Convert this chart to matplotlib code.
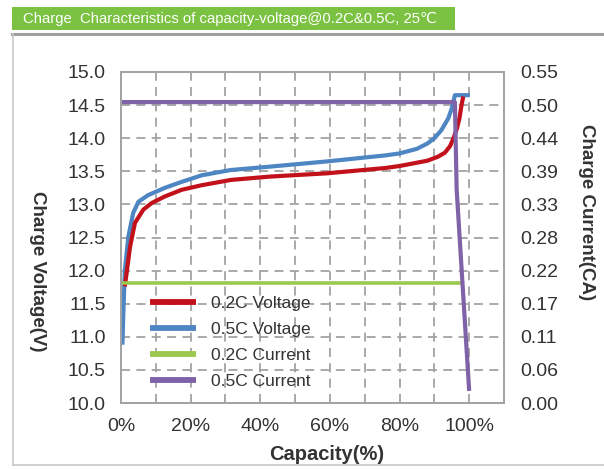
import matplotlib
matplotlib.use("Agg")
import matplotlib.pyplot as plt
from matplotlib.patches import Rectangle
from matplotlib.lines import Line2D

plt.rcParams['font.family'] = ['Liberation Sans', 'DejaVu Sans']

# ---- data ----
cap_02v = [1.1, 1.6, 2.6, 4.0, 6.4, 8.8, 12.6, 17.4, 23.2, 31.6, 42.7, 59.3, 75.9, 80.0, 85.0, 88.0,
           91.0, 93.0, 94.5, 95.5, 96.5, 97.2, 97.8, 98.3]
volt_02 = [11.76, 11.96, 12.36, 12.72, 12.92, 13.02, 13.12, 13.22, 13.29, 13.37, 13.42, 13.47, 13.55, 13.58, 13.63, 13.66,
           13.72, 13.78, 13.88, 14.00, 14.15, 14.30, 14.50, 14.63]

cap_05v = [0.4, 0.7, 1.1, 2.1, 3.5, 5.0, 7.8, 12.6, 17.4, 23.2, 31.6, 42.7, 59.3, 75.9, 80.0, 85.0,
           88.0, 90.0, 92.0, 94.0, 95.0, 95.9, 100.2]
volt_05 = [10.88, 11.40, 12.00, 12.51, 12.87, 13.04, 13.14, 13.25, 13.34, 13.44, 13.52, 13.57, 13.65, 13.74, 13.77, 13.84,
           13.92, 14.00, 14.12, 14.30, 14.45, 14.65, 14.65]

cap_02c = [0.0, 97.8]
curr_02 = [0.20, 0.20]

cap_05c = [0.0, 95.9, 96.4, 100.0]
curr_05 = [0.50, 0.50, 0.355, 0.02]

x_ticks = [0, 10, 20, 30, 40, 50, 60, 70, 80, 90, 100, 110]
x_labels = ['0%', '', '20%', '', '40%', '', '60%', '', '80%', '', '100%', '']
v_ticks = [10.0, 10.5, 11.0, 11.5, 12.0, 12.5, 13.0, 13.5, 14.0, 14.5, 15.0]
c_ticks = [0.0, 0.055, 0.11, 0.165, 0.22, 0.275, 0.33, 0.385, 0.44, 0.495, 0.55]
c_labels = ['0.00', '0.06', '0.11', '0.17', '0.22', '0.28', '0.33', '0.39', '0.44', '0.50', '0.55']

title = "Charge  Characteristics of capacity-voltage@0.2C&0.5C, 25\u2103"

RED = '#c3111b'
BLUE = '#4e86c4'
GREEN = '#9bc84f'
PURPLE = '#7f62a8'
GRID = '#a3a3a3'
TXT = '#333333'

fig = plt.figure(figsize=(6.04, 4.70), dpi=100)
W, H = 604, 470

# banner
fig.patches.append(Rectangle((12 / W, 1 - 30 / H), (455 - 12) / W, 23 / H,
                             transform=fig.transFigure, facecolor='#7cc242',
                             edgecolor='none', zorder=0))
fig.text(23 / W, 1 - 19 / H, title, color='white', fontsize=10.7,
         ha='left', va='center', family=['Liberation Sans', 'DejaVu Sans'])
# outer frame
fig.add_artist(Line2D([12 / W, 1.0], [1 - 34 / H, 1 - 34 / H], transform=fig.transFigure,
                      color='#a0a0a0', lw=2.2))
fig.add_artist(Line2D([13 / W, 13 / W], [1 - 34 / H, 1 - 465 / H], transform=fig.transFigure,
                      color='#c8c8c8', lw=1.2))
fig.add_artist(Line2D([13 / W, 1.0], [1 - 465 / H, 1 - 465 / H], transform=fig.transFigure,
                      color='#c8c8c8', lw=1.2))

ax = fig.add_axes([121 / W, 1 - 403 / H, (504 - 121) / W, (403 - 72) / H])
ax2 = ax.twinx()

ax.set_xlim(0, 110)
ax.set_ylim(10, 15)
ax2.set_ylim(0, 0.55)

ax.set_xticks(x_ticks)
ax.set_xticklabels(x_labels)
ax.set_yticks(v_ticks)
ax.set_yticklabels([f'{v:.1f}' for v in v_ticks])
ax2.set_yticks(c_ticks)
ax2.set_yticklabels(c_labels)

ax.grid(True, color=GRID, linestyle=(0, (5, 3.5)), linewidth=1.3)
ax.set_axisbelow(True)
for a in (ax, ax2):
    for s in a.spines.values():
        s.set_color(GRID)
        s.set_linewidth(1.4)
ax.tick_params(axis='both', length=0, labelsize=14, colors=TXT)
ax.tick_params(axis='y', pad=11)
ax.tick_params(axis='x', pad=11)
ax2.tick_params(axis='y', length=0, labelsize=14, colors=TXT, pad=12)

l1, = ax.plot(cap_02v, volt_02, color=RED, lw=3.0, solid_capstyle='butt', solid_joinstyle='round', zorder=4)
l2, = ax.plot(cap_05v, volt_05, color=BLUE, lw=3.0, solid_capstyle='butt', solid_joinstyle='round', zorder=3)
l3, = ax2.plot(cap_02c, curr_02, color=GREEN, lw=2.6, solid_capstyle='butt', zorder=2)
l4, = ax2.plot(cap_05c, curr_05, color=PURPLE, lw=3.0, solid_capstyle='butt', zorder=2)

leg = ax2.legend([l1, l2, l3, l4], ['0.2C Voltage', '0.5C Voltage', '0.2C Current', '0.5C Current'],
                 loc='lower left', bbox_to_anchor=(0.045, 0.005), frameon=False,
                 fontsize=12.5, handlelength=2.6, handletextpad=0.9, labelspacing=0.62,
                 borderaxespad=0.3)
for t in leg.get_texts():
    t.set_color(TXT)
for h in leg.get_lines():
    h.set_linewidth(4.2)

fig.text(327 / W, 1 - 455 / H, 'Capacity(%)', fontsize=14.5, fontweight='bold',
         color=TXT, ha='center', va='center')
fig.text(37 / W, 1 - 271 / H, 'Charge Voltage(V)', fontsize=13.5, fontweight='bold',
         color=TXT, ha='center', va='center', rotation=-90)
fig.text(586 / W, 1 - 212 / H, 'Charge Current(CA)', fontsize=13.5, fontweight='bold',
         color=TXT, ha='center', va='center', rotation=-90)

fig.savefig('out.png', dpi=100)
